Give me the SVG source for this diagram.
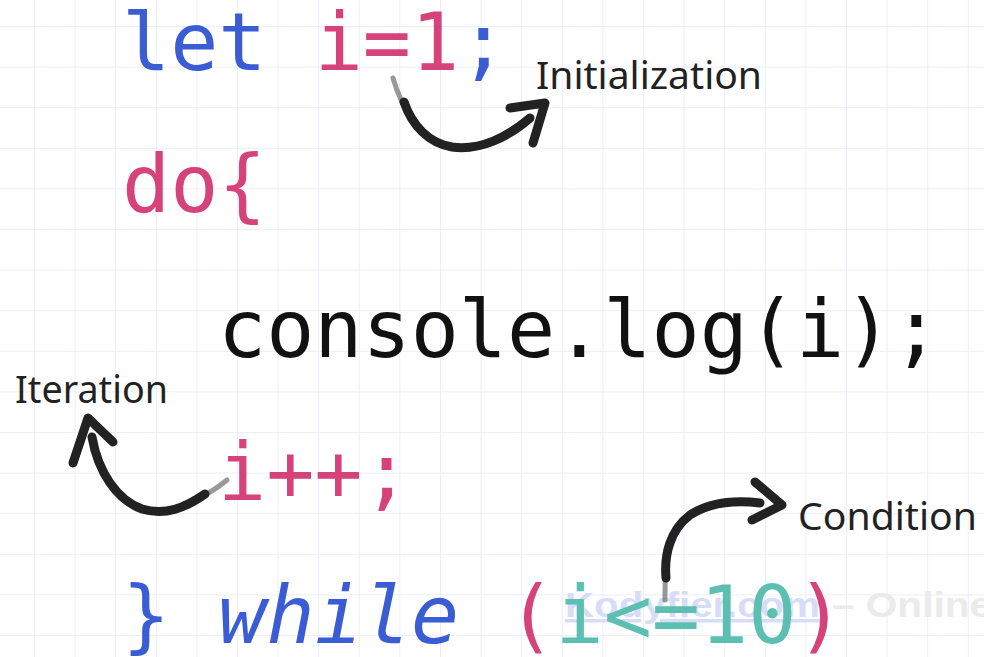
<svg xmlns="http://www.w3.org/2000/svg" width="984" height="657" viewBox="0 0 984 657">
<defs>
<pattern id="grid" patternUnits="userSpaceOnUse" x="34" y="26" width="40.6" height="40.6">
<path d="M0.5 0 V40.6 M0 0.5 H40.6" fill="none" stroke="#eceef9" stroke-width="1"/>
</pattern>
</defs>
<style>
.code{font-family:"DejaVu Sans Mono","Liberation Mono",monospace;font-size:80px}
.blue{fill:#3a5dd4}
.pink{fill:#d6427a}
.teal{fill:#5dbfb1}
.black{fill:#111111}
.label{font-family:"Noto Sans","Liberation Sans",sans-serif;font-size:39px;fill:#222222}
.brush{fill:none;stroke:#222222;stroke-width:9;stroke-linecap:round;stroke-linejoin:round}
.tail{fill:none;stroke:#333333;stroke-width:5;stroke-linecap:round;opacity:0.5}
.wm{font-family:"Liberation Sans",sans-serif;font-weight:bold;font-size:35px}
</style>
<rect width="984" height="657" fill="#ffffff"/>
<rect width="984" height="657" fill="url(#grid)"/>
<g id="watermark">
<text class="wm" x="565" y="617" fill="#d7ddf6" text-decoration="underline" textLength="255" lengthAdjust="spacingAndGlyphs">Kodyfier.com</text>
<text class="wm" x="832" y="617" fill="#ebebeb" textLength="160" lengthAdjust="spacingAndGlyphs">– Online</text>
</g>
<g id="line-let">
<text class="code" x="122" y="70" xml:space="preserve"><tspan class="blue">let </tspan><tspan class="pink">i=1</tspan><tspan class="blue">;</tspan></text>
</g>
<g id="line-do">
<text class="code pink" x="122" y="212">do{</text>
</g>
<g id="line-console">
<text class="code black" x="218" y="357">console.log(i);</text>
</g>
<g id="line-inc">
<text class="code pink" x="218" y="500">i++;</text>
</g>
<g id="line-while">
<text class="code" x="122" y="643" xml:space="preserve"><tspan class="blue">} </tspan><tspan class="blue" font-style="italic">while</tspan><tspan class="blue"> </tspan><tspan class="pink">(</tspan><tspan class="teal">i&lt;=10</tspan><tspan class="pink">)</tspan></text>
</g>
<g id="label-init"><text class="label" x="536" y="89" textLength="226" lengthAdjust="spacingAndGlyphs">Initialization</text></g>
<g id="label-iter"><text class="label" x="15" y="403" textLength="153" lengthAdjust="spacingAndGlyphs">Iteration</text></g>
<g id="label-cond"><text class="label" x="798" y="530" textLength="179" lengthAdjust="spacingAndGlyphs">Condition</text></g>
<g id="connectors">
<path class="tail" d="M393,78 C397,92 402,104 410,116"/>
<path class="brush" d="M404,102 C412,125 428,143 452,147 C480,151 508,137 530,118"/>
<path class="brush" d="M510,108 L545,103 L533,143"/>
<path class="tail" d="M227,480 C215,490 205,496 192,501"/>
<path class="brush" d="M205,494 C185,508 165,516 142,509 C117,500 98,472 92,437"/>
<path class="brush" d="M73,463 L88,418 L113,442"/>
<path class="tail" d="M665,600 C665,588 665,578 666,566"/>
<path class="brush" d="M666,578 C664,555 670,530 690,515 C710,502 735,500 760,503"/>
<path class="brush" d="M755,482 L782,505 L752,520"/>
</g>
</svg>
